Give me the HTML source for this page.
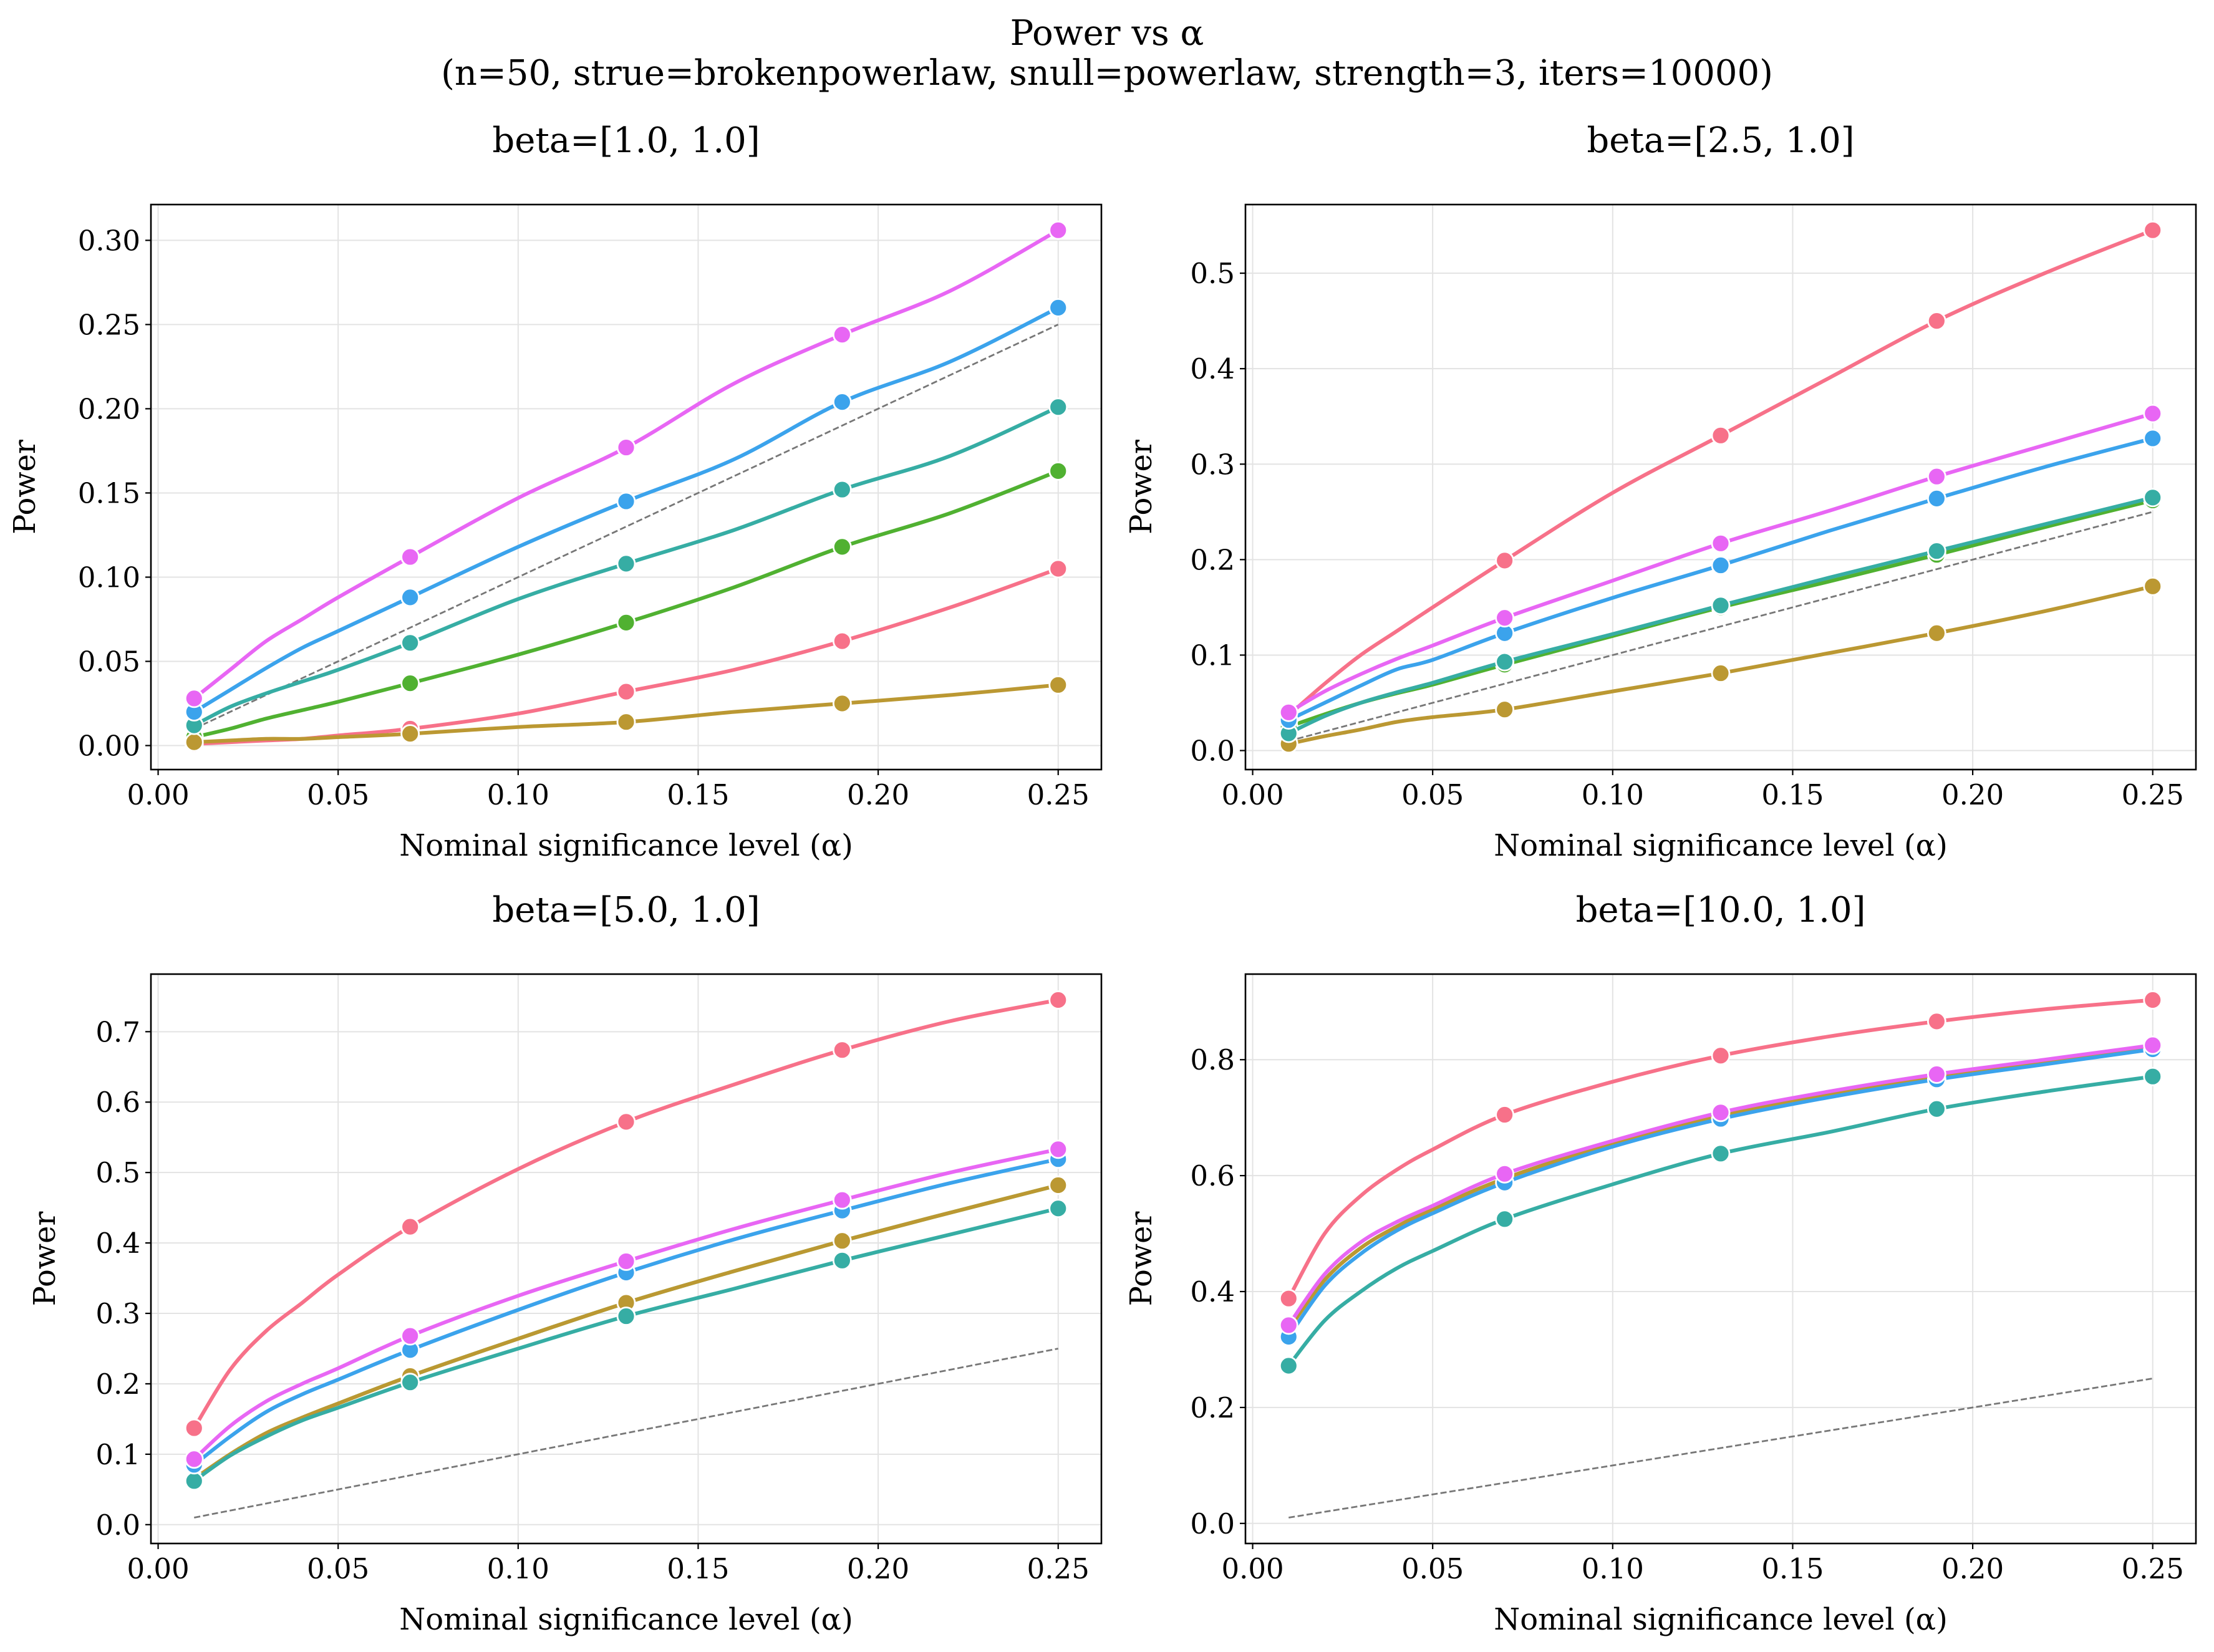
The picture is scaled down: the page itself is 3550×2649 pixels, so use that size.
<!DOCTYPE html>
<html><head><meta charset="utf-8">
<style>
html,body{margin:0;padding:0;background:#fff;}
svg{display:block;}
text{font-family:"DejaVu Serif","Liberation Serif",serif;fill:#000;}
</style></head>
<body>
<svg id="fig" width="3550" height="2649" viewBox="0 0 3550 2649" xmlns="http://www.w3.org/2000/svg">
<rect width="3550" height="2649" fill="#fff"/>
<text x="1775" y="72" font-size="56" text-anchor="middle">Power vs α</text>
<text x="1775" y="136" font-size="56" text-anchor="middle">(n=50, strue=brokenpowerlaw, snull=powerlaw, strength=3, iters=10000)</text>
</svg>
<script>
const alphas = [0.01,0.02,0.03,0.04,0.05,0.07,0.10,0.13,0.16,0.19,0.22,0.25];
const markerAlphas = [0.01,0.07,0.13,0.19,0.25];
const xTicks = [0.00,0.05,0.10,0.15,0.20,0.25];
const seriesNames = ["green","pink","gold","teal","blue","magenta"];
const seriesColors = ["#50b131","#f77189","#bb9832","#36ada4","#3ba3ec","#e866f4"];
const panelTitles = ["beta=[1.0, 1.0]","beta=[2.5, 1.0]","beta=[5.0, 1.0]","beta=[10.0, 1.0]"];
// panel 1
const p1Pink    = [0.001,0.002,0.003,0.004,0.006,0.010,0.019,0.032,0.045,0.062,0.082,0.105];
const p1Gold    = [0.002,0.003,0.004,0.004,0.005,0.007,0.011,0.014,0.020,0.025,0.030,0.036];
const p1Green   = [0.005,0.010,0.016,0.021,0.026,0.037,0.054,0.073,0.094,0.118,0.138,0.163];
const p1Teal    = [0.012,0.023,0.031,0.038,0.045,0.061,0.087,0.108,0.128,0.152,0.172,0.201];
const p1Blue    = [0.020,0.033,0.046,0.058,0.068,0.088,0.118,0.145,0.170,0.204,0.228,0.260];
const p1Magenta = [0.028,0.045,0.062,0.075,0.088,0.112,0.147,0.177,0.215,0.244,0.270,0.306];
const p1YTicks = [0.00,0.05,0.10,0.15,0.20,0.25,0.30];
// panel 2
const p2Pink    = [0.037,0.070,0.100,0.125,0.150,0.199,0.270,0.330,0.390,0.450,0.500,0.545];
const p2Gold    = [0.007,0.015,0.022,0.030,0.035,0.043,0.062,0.081,0.102,0.123,0.146,0.172];
const p2Green   = [0.025,0.038,0.050,0.060,0.069,0.090,0.120,0.150,0.177,0.205,0.234,0.262];
const p2Teal    = [0.018,0.036,0.050,0.061,0.071,0.093,0.122,0.152,0.181,0.209,0.237,0.265];
const p2Blue    = [0.032,0.050,0.068,0.085,0.095,0.123,0.160,0.194,0.230,0.264,0.297,0.327];
const p2Magenta = [0.040,0.062,0.080,0.096,0.110,0.139,0.178,0.217,0.251,0.287,0.320,0.353];
const p2YTicks = [0.0,0.1,0.2,0.3,0.4,0.5];
// panel 3
const p3Pink    = [0.137,0.220,0.275,0.315,0.355,0.423,0.505,0.572,0.625,0.674,0.715,0.745];
const p3Gold    = [0.065,0.100,0.130,0.152,0.172,0.211,0.264,0.315,0.360,0.403,0.443,0.482];
const p3Green   = [0.065,0.100,0.130,0.152,0.172,0.211,0.264,0.315,0.360,0.403,0.443,0.482];
const p3Teal    = [0.062,0.098,0.125,0.148,0.166,0.202,0.250,0.296,0.335,0.375,0.412,0.449];
const p3Blue    = [0.085,0.125,0.160,0.185,0.206,0.248,0.305,0.358,0.405,0.446,0.485,0.519];
const p3Magenta = [0.093,0.140,0.175,0.200,0.222,0.268,0.325,0.374,0.420,0.461,0.500,0.533];
const p3YTicks = [0.0,0.1,0.2,0.3,0.4,0.5,0.6,0.7];
// panel 4
const p4Pink    = [0.388,0.500,0.565,0.610,0.645,0.705,0.762,0.807,0.840,0.866,0.887,0.903];
const p4Gold    = [0.335,0.420,0.475,0.512,0.542,0.595,0.655,0.703,0.740,0.770,0.797,0.822];
const p4Green   = [0.335,0.420,0.475,0.512,0.542,0.595,0.655,0.703,0.740,0.770,0.797,0.822];
const p4Teal    = [0.272,0.350,0.400,0.440,0.470,0.525,0.585,0.638,0.675,0.715,0.745,0.771];
const p4Blue    = [0.322,0.410,0.465,0.505,0.535,0.588,0.650,0.698,0.735,0.766,0.792,0.818];
const p4Magenta = [0.342,0.430,0.485,0.520,0.548,0.603,0.660,0.709,0.745,0.775,0.800,0.825];
const p4YTicks = [0.0,0.2,0.4,0.6,0.8];

const panels = [
 {box:[242,328,1766,1234], series:[p1Green,p1Pink,p1Gold,p1Teal,p1Blue,p1Magenta], yt:p1YTicks, dec:2, title:panelTitles[0], ylx:56},
 {box:[1997,328,3521,1234], series:[p2Green,p2Pink,p2Gold,p2Teal,p2Blue,p2Magenta], yt:p2YTicks, dec:1, title:panelTitles[1], ylx:1846},
 {box:[242,1562,1766,2475], series:[p3Green,p3Pink,p3Gold,p3Teal,p3Blue,p3Magenta], yt:p3YTicks, dec:1, title:panelTitles[2], ylx:88},
 {box:[1997,1562,3521,2475], series:[p4Green,p4Pink,p4Gold,p4Teal,p4Blue,p4Magenta], yt:p4YTicks, dec:1, title:panelTitles[3], ylx:1846}
];
const NS="http://www.w3.org/2000/svg";
const fig=document.getElementById('fig');
function mk(tag,attrs,parent){const e=document.createElementNS(NS,tag);for(const k in attrs)e.setAttribute(k,attrs[k]);(parent||fig).appendChild(e);return e;}
function smooth(pts){
  let d=`M${pts[0][0]},${pts[0][1]}`;
  for(let i=0;i<pts.length-1;i++){
    const p0=pts[Math.max(0,i-1)],p1=pts[i],p2=pts[i+1],p3=pts[Math.min(pts.length-1,i+2)];
    const c1=[p1[0]+(p2[0]-p0[0])/6,p1[1]+(p2[1]-p0[1])/6];
    const c2=[p2[0]-(p3[0]-p1[0])/6,p2[1]-(p3[1]-p1[1])/6];
    d+=` C${c1[0]},${c1[1]} ${c2[0]},${c2[1]} ${p2[0]},${p2[1]}`;
  }
  return d;
}
panels.forEach((P,pi)=>{
  const [L,T,R,B]=P.box;
  const g=mk('g',{});
  
  
  let lo=Math.min(0.01,...P.series.flat()), hi=Math.max(0.25,...P.series.flat());
  const ymin=lo-0.05*(hi-lo), ymax=hi+0.05*(hi-lo);
  const xmin=0.01-0.05*0.24, xmax=0.25+0.05*0.24;
  const X=v=>L+(v-xmin)/(xmax-xmin)*(R-L);
  const Y=v=>B-(v-ymin)/(ymax-ymin)*(B-T);
  xTicks.forEach(t=>{const l=mk('line',{x1:X(t),x2:X(t),y1:T,y2:B,stroke:'#e3e3e3','stroke-width':2},g);});
  P.yt.forEach(t=>{const l=mk('line',{x1:L,x2:R,y1:Y(t),y2:Y(t),stroke:'#e3e3e3','stroke-width':2},g);});
  const ref=mk('line',{x1:X(0.01),y1:Y(0.01),x2:X(0.25),y2:Y(0.25),stroke:'#777','stroke-width':2.8,'stroke-dasharray':'10 4.5'},g);
  
  
  P.series.forEach((vals,si)=>{
    const pts=alphas.map((a,i)=>[X(a),Y(vals[i])]);
    const p=mk('path',{d:smooth(pts),fill:'none',stroke:seriesColors[si],'stroke-width':6,'stroke-linejoin':'round','stroke-linecap':'round'},g);
    
    
    markerAlphas.forEach(a=>{
      const i=alphas.indexOf(a);
      const c=mk('circle',{cx:X(a),cy:Y(vals[i]),r:14,fill:seriesColors[si],stroke:'#fff','stroke-width':2.8},g);
      
      
    });
  });
  const fr=mk('rect',{x:L,y:T,width:R-L,height:B-T,fill:'none',stroke:'#000','stroke-width':2.6},g);
  
  
  xTicks.forEach(t=>{
    mk('line',{x1:X(t),x2:X(t),y1:B,y2:B+9,stroke:'#000','stroke-width':2.2},g);
    const tx=mk('text',{x:X(t),y:B+56,'font-size':45,'text-anchor':'middle'},g);
    tx.textContent=t.toFixed(2);
    
    
  });
  P.yt.forEach(t=>{
    mk('line',{x1:L-9,x2:L,y1:Y(t),y2:Y(t),stroke:'#000','stroke-width':2.2},g);
    const tx=mk('text',{x:L-17,y:Y(t)+16,'font-size':45,'text-anchor':'end'},g);
    tx.textContent=t.toFixed(P.dec);
    
    
  });
  const xl=mk('text',{x:(L+R)/2,y:B+138,'font-size':48,'text-anchor':'middle'},g);
  xl.textContent='Nominal significance level (α)';
  
  
  const yl=mk('text',{x:P.ylx,y:(T+B)/2,'font-size':48,'text-anchor':'middle',transform:`rotate(-90 ${P.ylx} ${(T+B)/2})`},g);
  yl.textContent='Power';
  
  
  const st=mk('text',{x:(L+R)/2,y:T-84,'font-size':56,'text-anchor':'middle'},g);
  st.textContent=P.title;
  
  
});
</script>
</body></html>
